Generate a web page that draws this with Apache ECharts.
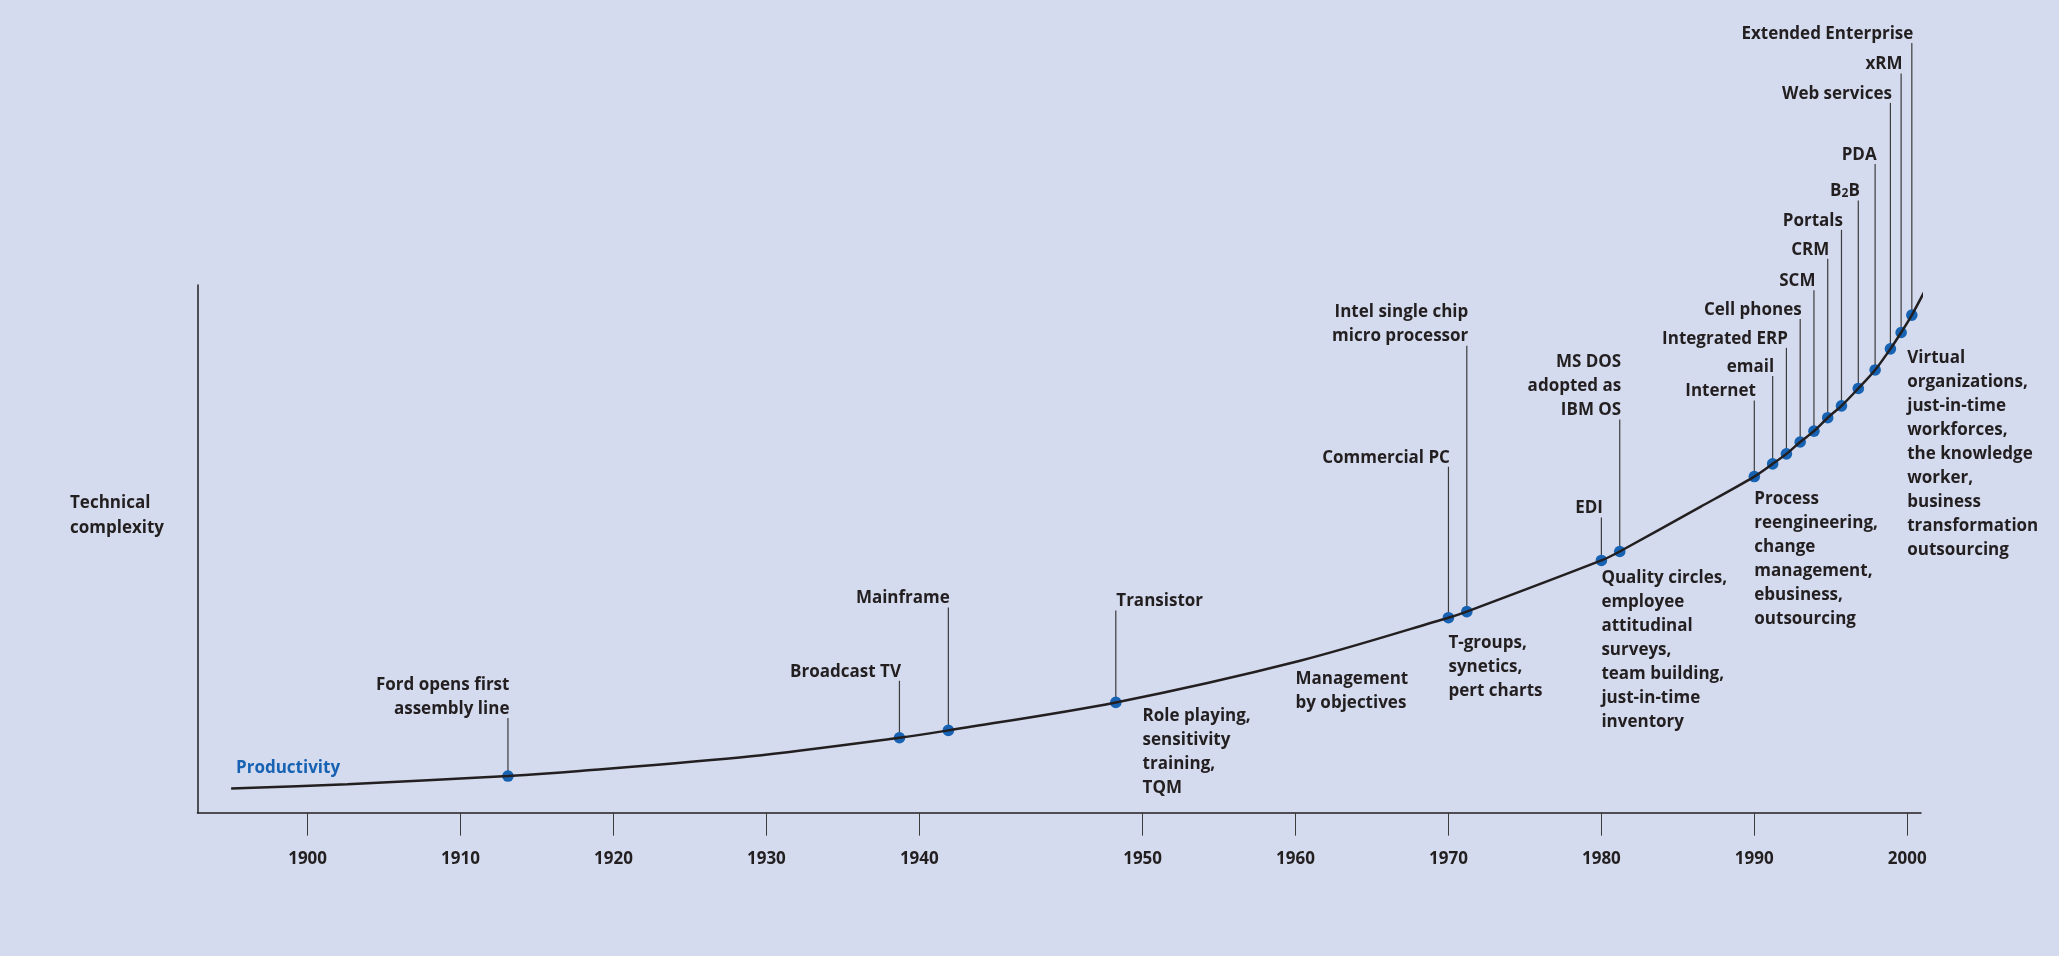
<!DOCTYPE html>
<html lang="en" style="height: 100%">
<head>
  <meta charset="utf-8">
</head>
<body style="height: 100%; margin: 0; background: #d4dbee">
  <div id="container" style="height: 100%"></div>

  <script type="text/javascript" src="https://cdn.jsdelivr.net/npm/echarts@6/dist/echarts.min.js"></script>

  <script type="text/javascript">
    // productivity curve (year, level 0-100)
    const curveYears = [1895.0, 1902.6, 1913.1, 1917.8, 1929.0, 1938.7, 1941.3, 1948.8, 1960.3,
      1970.0, 1971.2, 1980.0, 1981.2, 1986.5, 1990.0, 1991.2, 1992.1, 1993.0, 1993.9, 1994.8, 1995.7,
      1996.8, 1997.9, 1998.9, 1999.6, 2000.3, 2001.6];
    const curveLevels = [4.6, 5.4, 6.95, 7.9, 10.7, 14.2, 15.6, 20.9, 28.8,
      36.95, 38.1, 47.8, 49.5, 58.0, 63.7, 66.1, 68.0, 70.25, 72.3, 74.85, 77.1,
      80.4, 83.9, 87.9, 91.0, 94.3, 101.4];

    // technology milestones sitting on the curve
    const eventNames = ['Ford opens first\nassembly line', 'Broadcast TV', 'Mainframe', 'Transistor',
      'Commercial PC', 'Intel single chip\nmicro processor', 'EDI', 'MS DOS\nadopted as\nIBM OS',
      'Internet', 'email', 'Integrated ERP', 'Cell phones', 'SCM', 'CRM', 'Portals', 'B{sub|2}B',
      'PDA', 'Web services', 'xRM', 'Extended Enterprise'];
    const eventYears = [1913.1, 1938.7, 1941.3, 1948.8, 1970.0, 1971.2, 1980.0, 1981.2,
      1990.0, 1991.2, 1992.1, 1993.0, 1993.9, 1994.8, 1995.7, 1996.8, 1997.9, 1998.9, 1999.6, 2000.3];
    const eventLevels = [6.95, 14.2, 15.6, 20.9, 36.95, 38.1, 47.8, 49.5,
      63.7, 66.1, 68.0, 70.25, 72.3, 74.85, 77.1, 80.4, 83.9, 87.9, 91.0, 94.3];

    // management practices per decade
    const noteYears = [1950, 1960, 1970, 1980, 1990, 2000];
    const noteTexts = [
      'Role playing,\nsensitivity\ntraining,\nTQM',
      'Management\nby objectives',
      'T-groups,\nsynetics,\npert charts',
      'Quality circles,\nemployee\nattitudinal\nsurveys,\nteam building,\njust-in-time\ninventory',
      'Process\nreengineering,\nchange\nmanagement,\nebusiness,\noutsourcing',
      'Virtual\norganizations,\njust-in-time\nworkforces,\nthe knowledge\nworker,\nbusiness\ntransformation\noutsourcing'
    ];

    const tickYears = [1900, 1910, 1920, 1930, 1940, 1950, 1960, 1970, 1980, 1990, 2000];

    // layout only: leader length (px), label side, note top (value units)
    const eventStem = [58, 57, 123, 92, 151, 266, 43, 132, 76, 88, 106, 123, 141, 159, 176, 188, 206, 246, 259, 272];
    const eventAlign = ['right', 'right', 'right', 'left', 'right', 'right', 'right', 'right',
      'right', 'right', 'right', 'right', 'right', 'right', 'right', 'right', 'right', 'right', 'right', 'right'];
    const noteTop = [20.5, 27.6, 34.4, 46.8, 61.7, 88.5];

    const INK = '#231f20';
    const BLUE = '#1762b3';
    const FONT = '"Open Sans", "Noto Sans", sans-serif';
    const SIZE = 17;

    // the 1940s decade is drawn wider than the others on the original axis
    const GAP = 4.6;
    function toAxis(year) {
      if (year <= 1940) return year;
      if (year >= 1950) return year + GAP;
      return 1940 + (year - 1940) * (10 + GAP) / 10;
    }
    function fromAxis(u) {
      if (u <= 1940) return u;
      if (u >= 1950 + GAP) return u - GAP;
      return 1940 + (u - 1940) * 10 / (10 + GAP);
    }

    var dom = document.getElementById('container');
    var myChart = echarts.init(dom, null, { renderer: 'canvas' });
    var option;

    option = {
      backgroundColor: '#d4dbee',
      animation: false,
      title: [
        {
          text: 'Technical\ncomplexity',
          left: 70, top: 491, padding: 0,
          textStyle: { color: INK, fontFamily: FONT, fontWeight: 'bold', fontSize: SIZE, lineHeight: 25 }
        },
        {
          text: 'Productivity',
          left: 236, top: 756, padding: 0,
          textStyle: { color: BLUE, fontFamily: FONT, fontWeight: 'bold', fontSize: SIZE, lineHeight: 24 }
        }
      ],
      grid: { left: 197.5, right: 138, top: 285, bottom: 143.3, containLabel: false },
      xAxis: {
        type: 'value',
        min: 1892.8,
        max: 2005.5,
        axisLine: { lineStyle: { color: INK, width: 1.5 } },
        axisTick: {
          customValues: tickYears.map(toAxis),
          length: 23,
          lineStyle: { color: '#3d3b3c', width: 1 }
        },
        axisLabel: {
          customValues: tickYears.map(toAxis),
          formatter: function (u) { return String(Math.round(fromAxis(u))); },
          margin: 38,
          color: INK,
          fontFamily: FONT,
          fontWeight: 'bold',
          fontSize: 17
        },
        splitLine: { show: false }
      },
      yAxis: {
        type: 'value',
        min: 0,
        max: 100,
        axisLine: { show: true, lineStyle: { color: INK, width: 1.5 } },
        axisTick: { show: false },
        axisLabel: { show: false },
        splitLine: { show: false }
      },
      series: [
        {
          name: 'Productivity',
          type: 'line',
          data: curveYears.map(function (y, i) { return [toAxis(y), curveLevels[i]]; }),
          smooth: 0.3,
          showSymbol: false,
          clip: false,
          silent: true,
          lineStyle: { color: INK, width: 2.5 }
        },
        {
          type: 'custom',
          silent: true,
          clip: false,
          data: eventYears.map(function (y, i) { return [toAxis(y), eventLevels[i], i]; }),
          renderItem: function (params, api) {
            const i = api.value(2);
            const p = api.coord([api.value(0), api.value(1)]);
            const top = p[1] - eventStem[i];
            const right = eventAlign[i] === 'right';
            return {
              type: 'group',
              children: [
                {
                  type: 'line',
                  shape: { x1: p[0], y1: p[1], x2: p[0], y2: top },
                  style: { stroke: '#3d3b3c', lineWidth: 1.2 }
                },
                {
                  type: 'circle',
                  shape: { cx: p[0], cy: p[1], r: 5.8 },
                  style: { fill: BLUE }
                },
                {
                  type: 'text',
                  x: p[0] + (right ? 1.5 : 0.5),
                  y: top + 3,
                  style: {
                    text: eventNames[i],
                    align: right ? 'right' : 'left',
                    verticalAlign: 'bottom',
                    fill: INK,
                    fontFamily: FONT,
                    fontWeight: 'bold',
                    fontSize: SIZE,
                    lineHeight: 24,
                    rich: {
                      sub: { fill: INK, fontFamily: FONT, fontWeight: 'bold', fontSize: 12, padding: [5, 0, 0, 0] }
                    }
                  }
                }
              ]
            };
          }
        },
        {
          type: 'custom',
          silent: true,
          clip: false,
          data: noteYears.map(function (y, i) { return [toAxis(y), noteTop[i], i]; }),
          renderItem: function (params, api) {
            const i = api.value(2);
            const p = api.coord([api.value(0), api.value(1)]);
            return {
              type: 'text',
              x: p[0],
              y: p[1],
              style: {
                text: noteTexts[i],
                align: 'left',
                verticalAlign: 'top',
                fill: INK,
                fontFamily: FONT,
                fontWeight: 'bold',
                fontSize: SIZE,
                lineHeight: 24
              }
            };
          }
        }
      ]
    };

    if (option && typeof option === 'object') {
      myChart.setOption(option);
    }

    window.addEventListener('resize', myChart.resize);
  </script>
</body>
</html>
